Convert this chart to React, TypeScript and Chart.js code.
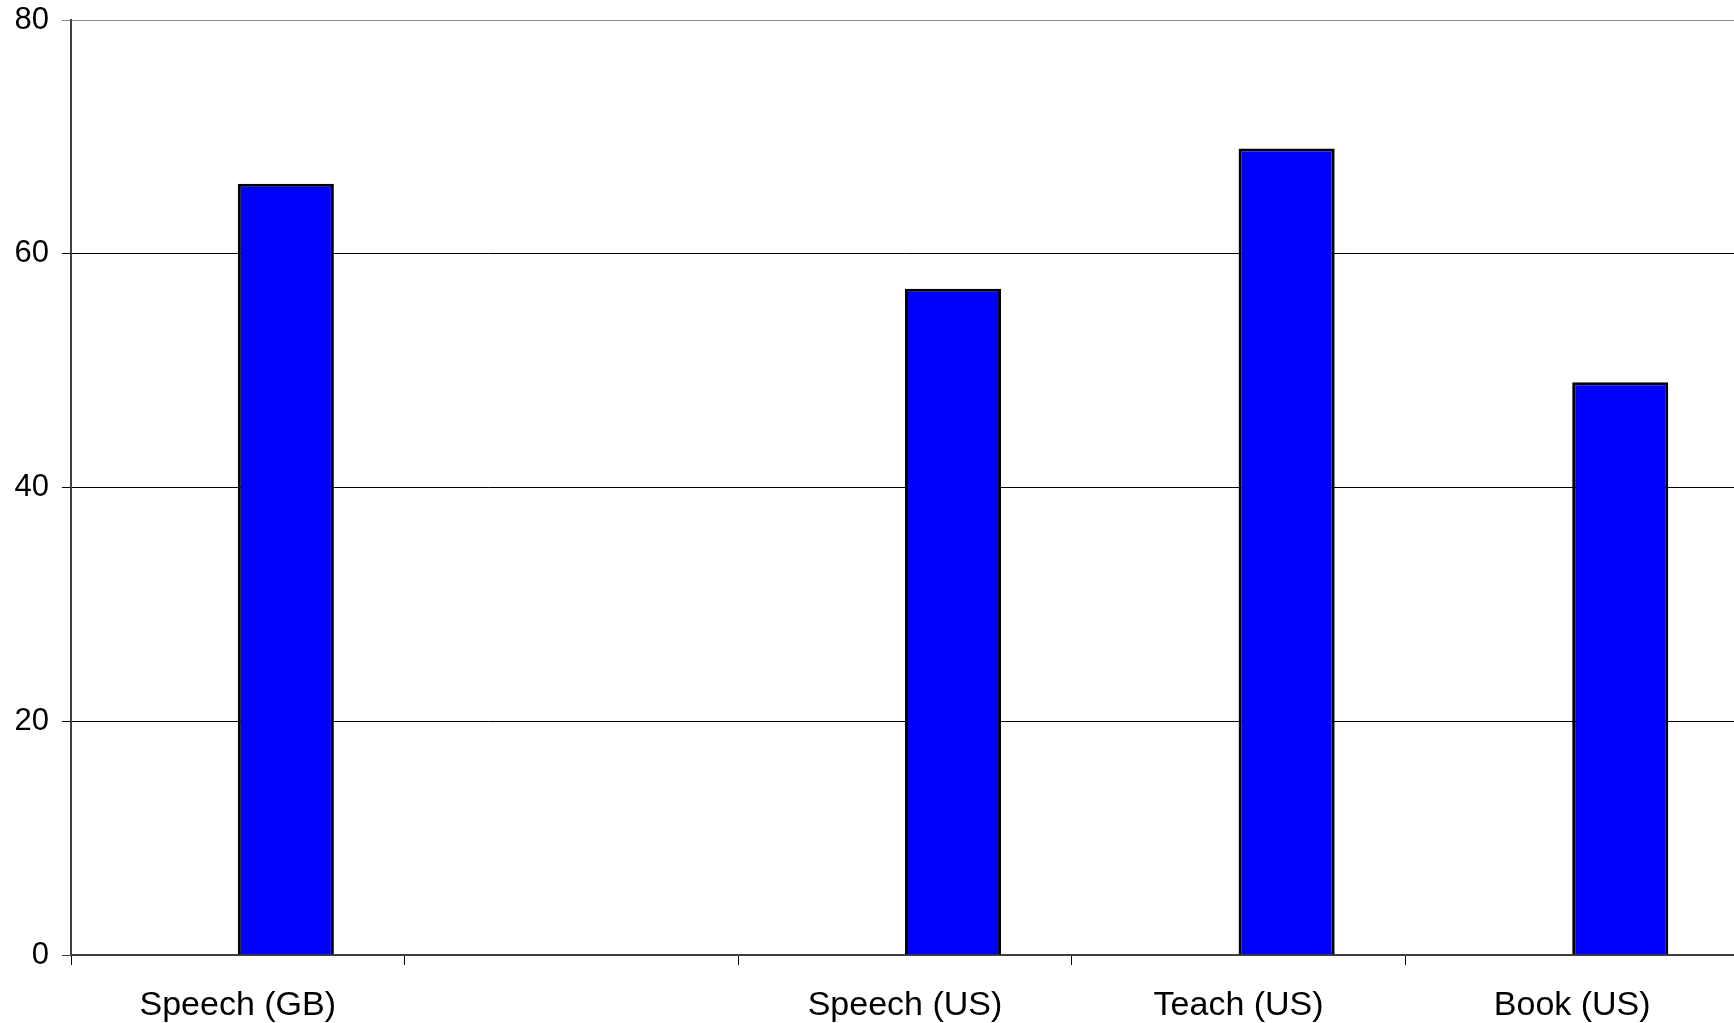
import React, { useEffect, useRef } from "react";
import { Chart, registerables } from "chart.js";

Chart.register(...registerables);

// Categories along the x axis (the second slot is intentionally blank)
const categories: string[] = ["Speech (GB)", "", "Speech (US)", "Teach (US)", "Book (US)"];

// Two clustered series; only the second one carries values
const seriesA: (number | null)[] = [null, null, null, null, null];
const seriesB: (number | null)[] = [66, null, 57, 69, 49];

// Value axis ticks
const yTicks: number[] = [0, 20, 40, 60, 80];

const FONT = "'Liberation Sans', Arial, Helvetica, sans-serif";

export default function App() {
  const canvasRef = useRef<HTMLCanvasElement | null>(null);

  useEffect(() => {
    const canvas = canvasRef.current;
    if (!canvas) return;
    const chart = new Chart(canvas, {
      type: "bar",
      data: {
        labels: categories,
        datasets: [
          {
            label: "A",
            data: seriesA,
            backgroundColor: "#0000FF",
            borderColor: "#000000",
            borderWidth: 3,
            categoryPercentage: 0.576,
            barPercentage: 1,
          },
          {
            label: "B",
            data: seriesB,
            backgroundColor: "#0000FF",
            borderColor: "#000000",
            borderWidth: 3,
            categoryPercentage: 0.576,
            barPercentage: 1,
          },
        ],
      },
      options: {
        animation: false,
        responsive: false,
        maintainAspectRatio: false,
        devicePixelRatio: 1,
        layout: { padding: { top: 20, right: 1, left: 0, bottom: 0 } },
        plugins: {
          legend: { display: false },
          tooltip: { enabled: false },
          title: { display: false },
        },
        scales: {
          x: {
            grid: {
              offset: true,
              drawOnChartArea: false,
              drawTicks: true,
              tickLength: 10,
              color: "#000000",
              lineWidth: 1,
            },
            border: { display: true, color: "#404040", width: 2 },
            ticks: {
              color: "#000000",
              font: { family: FONT, size: 34 },
              padding: 20,
              maxRotation: 0,
              autoSkip: false,
            },
            afterFit: (scale: any) => {
              scale.height = 68;
              scale.paddingLeft = 0;
              scale.paddingRight = 0;
            },
          },
          y: {
            min: 0,
            max: 80,
            afterBuildTicks: (scale: any) => {
              scale.ticks = yTicks.map((v) => ({ value: v }));
            },
            grid: {
              drawTicks: true,
              tickLength: 9,
              lineWidth: 1,
              color: (ctx: any) => {
                const v = ctx.tick ? ctx.tick.value : null;
                if (v === 80) return "#8a8a8a";
                if (v === 0) return "#404040";
                return "#000000";
              },
            },
            border: { display: true, color: "#404040", width: 2 },
            ticks: {
              color: "#000000",
              font: { family: FONT, size: 31 },
              padding: 13,
            },
            afterFit: (scale: any) => {
              scale.width = 71;
              scale.paddingTop = 0;
              scale.paddingBottom = 0;
            },
          },
        },
      },
    });
    return () => chart.destroy();
  }, []);

  return (
    <div
      style={{
        position: "fixed",
        left: 0,
        top: 0,
        width: 1734,
        height: 1023,
        overflow: "hidden",
        background: "#ffffff",
      }}
    >
      <canvas ref={canvasRef} width={1740} height={1023} style={{ display: "block" }} />
    </div>
  );
}
